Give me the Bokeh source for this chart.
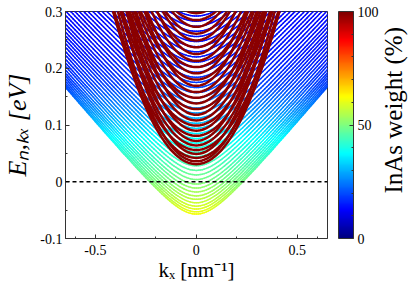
import numpy as np
from bokeh.plotting import figure
from bokeh.layouts import row
from bokeh.models import (ColumnDataSource, FixedTicker, LinearColorMapper,
                          ColorBar, Span)
from bokeh.core.properties import value
from bokeh.embed import file_html
from bokeh.resources import INLINE

# ---------------- data ----------------
# wide (low InAs weight) sub-bands: minimum energy at k=0 [eV]
wide_min = [-0.057, -0.053, -0.048, -0.043, -0.037, -0.031, -0.025, -0.018,
            -0.011, -0.004, 0.004, 0.012, 0.020, 0.028, 0.036, 0.044, 0.052,
            0.060, 0.068, 0.076, 0.085, 0.094, 0.103, 0.112, 0.121, 0.130,
            0.139, 0.148, 0.157, 0.166, 0.175, 0.184, 0.193, 0.202, 0.211,
            0.220, 0.229, 0.238, 0.247, 0.256, 0.265, 0.274, 0.283, 0.292]
# asymptotic slope of each wide sub-band [eV nm]
wide_vel = [0.420, 0.418, 0.416, 0.415, 0.413, 0.411, 0.409, 0.407, 0.406,
            0.404, 0.402, 0.400, 0.398, 0.397, 0.395, 0.393, 0.391, 0.389,
            0.388, 0.386, 0.384, 0.382, 0.380, 0.379, 0.377, 0.375, 0.373,
            0.371, 0.370, 0.368, 0.366, 0.364, 0.362, 0.361, 0.359, 0.357,
            0.355, 0.353, 0.352, 0.350, 0.348, 0.346, 0.344, 0.343]
wide_gap = 0.054          # non-parabolicity parameter [eV]
# InAs weight of the wide bands versus energy
weight_E = [-0.060, 0.000, 0.050, 0.080, 0.120, 0.170, 0.220, 0.300]
weight_pct = [62, 50, 42, 37, 28, 19, 15, 13]

# narrow (InAs-like) sub-bands: minimum [eV] and curvature [eV nm^2]
red_min = [0.031, 0.036, 0.042, 0.049, 0.056, 0.064, 0.072, 0.081, 0.090,
           0.099, 0.108, 0.118, 0.128, 0.138, 0.148, 0.158, 0.169, 0.180,
           0.191, 0.202, 0.213, 0.225, 0.237, 0.249, 0.261, 0.273, 0.285,
           0.297]
red_curv = [1.60, 1.75, 1.52, 1.85, 1.48, 1.70, 1.90, 1.55, 1.80, 1.50,
            1.72, 1.95, 1.58, 1.82, 1.50, 1.75, 2.00, 1.60, 1.85, 1.55,
            1.78, 2.00, 1.65, 1.85, 1.70, 1.90, 1.60, 1.80]
red_weight = 99

x_ticks = [-0.5, 0.0, 0.5]
x_tick_labels = ["-0.5", "0", "0.5"]
x_minor = [-0.6, -0.4, -0.2, 0.2, 0.4, 0.6]
y_ticks = [-0.1, 0.0, 0.1, 0.2, 0.3]
y_tick_labels = ["-0.1", "0", "0.1", "0.2", "0.3"]
y_minor = [-0.05, 0.05, 0.15, 0.25]
cb_ticks = [0, 50, 100]
cb_minor = [10, 20, 30, 40, 60, 70, 80, 90]
cb_title = "InAs weight (%)"

# ---------------- colour map (MATLAB jet) ----------------
def jet_rgb(x):
    r = np.clip(1.5 - abs(4 * x - 3), 0, 1)
    g = np.clip(1.5 - abs(4 * x - 2), 0, 1)
    b = np.clip(1.5 - abs(4 * x - 1), 0, 1)
    return "#%02x%02x%02x" % (int(r * 255), int(g * 255), int(b * 255))

jet256 = [jet_rgb(i / 255) for i in range(256)]

def weight_color(w):
    return jet256[int(round(np.clip(w, 0, 100) / 100 * 255))]

SERIF = "Liberation Serif"
FRAME_W, FRAME_H = 262, 227
B_LEFT, B_TOP, B_RIGHT, B_BOTTOM = 63, 11, 50, 38

p = figure(frame_width=FRAME_W, frame_height=FRAME_H,
           x_range=(-0.648, 0.650), y_range=(-0.1, 0.3),
           output_backend="svg", toolbar_location=None,
           min_border_left=B_LEFT, min_border_top=B_TOP,
           min_border_right=B_RIGHT, min_border_bottom=B_BOTTOM,
           background_fill_color="white", border_fill_color="white")

# wide bands, coloured segment by segment
k = np.linspace(-0.66, 0.66, 133)
xs, ys, cs = [], [], []
for E0, v in zip(wide_min, wide_vel):
    E = E0 - wide_gap + np.sqrt(wide_gap ** 2 + (v * k) ** 2)
    for i in range(len(k) - 1):
        if min(E[i], E[i + 1]) > 0.305:
            continue
        xs.append([k[i], k[i + 1]])
        ys.append([E[i], E[i + 1]])
        w = np.interp(0.5 * (E[i] + E[i + 1]), weight_E, weight_pct)
        cs.append(weight_color(w))
p.multi_line("xs", "ys", line_color="c", line_width=1.5, line_cap="round",
             source=ColumnDataSource(dict(xs=xs, ys=ys, c=cs)))

# narrow InAs bands
kr = np.linspace(-0.5, 0.5, 101)
rxs, rys = [], []
for E0, c in zip(red_min, red_curv):
    E = E0 + c * kr ** 2
    m = E < 0.33
    rxs.append(list(kr[m]))
    rys.append(list(E[m]))
p.multi_line("xs", "ys", line_color=weight_color(red_weight), line_width=2.5,
             source=ColumnDataSource(dict(xs=rxs, ys=rys)))

p.add_layout(Span(location=0, dimension="width", line_color="black",
                  line_dash="4 3", line_width=1.3))

# axes
p.xgrid.visible = False
p.ygrid.visible = False
p.outline_line_color = "#333333"
p.xaxis.ticker = FixedTicker(ticks=x_ticks, minor_ticks=x_minor)
p.yaxis.ticker = FixedTicker(ticks=y_ticks, minor_ticks=y_minor)
p.xaxis.major_label_overrides = dict(zip(x_ticks, x_tick_labels))
p.yaxis.major_label_overrides = dict(zip(y_ticks, y_tick_labels))
for ax in (p.xaxis[0], p.yaxis[0]):
    ax.axis_line_color = "#333333"
    ax.major_tick_line_color = "#333333"
    ax.minor_tick_line_color = "#333333"
    ax.major_tick_in = 4
    ax.major_tick_out = 0
    ax.minor_tick_in = 2
    ax.minor_tick_out = 0
    ax.major_label_text_font = SERIF
    ax.major_label_text_font_size = "14px"
    ax.major_label_text_color = "black"
    ax.axis_label_text_font = SERIF
    ax.axis_label_text_color = "black"
p.xaxis.major_label_standoff = 6
p.yaxis.major_label_standoff = 3
p.xaxis.axis_label = "kₓ [nm⁻¹]"
p.xaxis.axis_label_text_font_size = "21px"
p.xaxis.axis_label_text_font_style = "normal"
p.xaxis.axis_label_standoff = 0
p.yaxis.axis_label = "Eₙ,ₖₓ [eV]"
p.yaxis.axis_label_text_font_size = "26px"
p.yaxis.axis_label_text_font_style = "italic"
p.yaxis.axis_label_standoff = 5

# colour bar
mapper = LinearColorMapper(palette=jet256, low=0, high=100)
cb = ColorBar(color_mapper=mapper,
              ticker=FixedTicker(ticks=cb_ticks, minor_ticks=cb_minor),
              width=15, height=FRAME_H, padding=0, margin=0,
              location=(11, 0),
              bar_line_color="#333333",
              major_tick_line_color="#333333", major_tick_in=4,
              major_tick_out=0,
              minor_tick_line_color="#333333", minor_tick_in=2,
              minor_tick_out=0,
              major_label_text_font=SERIF, major_label_text_font_size="14px",
              major_label_text_color="black", label_standoff=4,
              border_line_color=None, background_fill_color=None)
p.add_layout(cb, "right")

# colour-bar title in a narrow side figure (reads bottom to top)
TOTAL_H = B_TOP + FRAME_H + B_BOTTOM
p2 = figure(width=32, height=TOTAL_H, x_range=(0, 1), y_range=(0, TOTAL_H),
            x_axis_type=None, y_axis_type=None, output_backend="svg",
            toolbar_location=None, min_border=0, outline_line_color=None,
            background_fill_color="white", border_fill_color="white")
p2.xgrid.visible = False
p2.ygrid.visible = False
p2.text(x=[0.38], y=[TOTAL_H - B_TOP - FRAME_H / 2], text=[cb_title],
        angle=np.pi / 2, text_align="center", text_baseline="middle",
        text_font=value(SERIF), text_font_size="25px", text_color="black")

layout = row(p, p2, spacing=0)
open("out.html", "w").write(file_html(layout, INLINE))
